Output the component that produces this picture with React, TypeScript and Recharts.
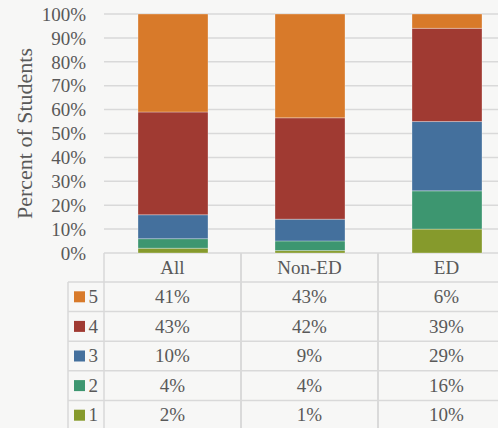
import { BarChart, Bar, XAxis, YAxis, CartesianGrid } from 'recharts';

const CATEGORIES = ['All', 'Non-ED', 'ED'];
const LEVEL_1 = [2, 1, 10];
const LEVEL_2 = [4, 4, 16];
const LEVEL_3 = [10, 9, 29];
const LEVEL_4 = [43, 42, 39];
const LEVEL_5 = [41, 43, 6];
const Y_TICKS = [0, 0.1, 0.2, 0.3, 0.4, 0.5, 0.6, 0.7, 0.8, 0.9, 1];

// bottom of stack first
const SERIES = [
  { key: 'l1', name: '1', values: LEVEL_1, color: '#869a2c' },
  { key: 'l2', name: '2', values: LEVEL_2, color: '#3d9670' },
  { key: 'l3', name: '3', values: LEVEL_3, color: '#44709d' },
  { key: 'l4', name: '4', values: LEVEL_4, color: '#a03a32' },
  { key: 'l5', name: '5', values: LEVEL_5, color: '#d87a2a' },
];
const TABLE_ROWS = [...SERIES].reverse();

const data = CATEGORIES.map((name, i) => {
  const row: Record<string, string | number> = { name };
  SERIES.forEach(s => { row[s.key] = s.values[i]; });
  return row;
});

const TEXT = '#595959';
const BORDER = '#d9d9d9';
const FAMILY = '"Liberation Serif", "Times New Roman", serif';
const FONT = 19;
const HEADER_H = 29;
const ROW_H = 29.6;
const LEGEND_LEFT = 68;

const TableTick = (props: any) => {
  const { x, y, payload, index } = props;
  const half = payload && payload.offset ? payload.offset : 68.5;
  const left = x - half;
  const right = x + half;
  const bottom = y + HEADER_H + ROW_H * TABLE_ROWS.length;
  const lineLeft = index === 0 ? LEGEND_LEFT : left;
  return (
    <g>
      <line x1={left} y1={y} x2={left} y2={bottom} stroke={BORDER} strokeWidth={1.5} />
      <line x1={right} y1={y} x2={right} y2={bottom} stroke={BORDER} strokeWidth={1.5} />
      <text x={x} y={y + 20.5} textAnchor="middle" fill={TEXT} fontSize={FONT}>{payload.value}</text>
      {TABLE_ROWS.map((s, r) => {
        const top = y + HEADER_H + r * ROW_H;
        return (
          <g key={s.key}>
            <line x1={lineLeft} y1={top} x2={right} y2={top} stroke={BORDER} strokeWidth={1.5} />
            <text x={x} y={top + 21} textAnchor="middle" fill={TEXT} fontSize={FONT}>
              {s.values[index]}%
            </text>
            {index === 0 && (
              <g>
                <rect x={74} y={top + ROW_H / 2 - 5.5} width={11} height={11} fill={s.color} />
                <text x={88.5} y={top + 21} fill={TEXT} fontSize={FONT}>{s.name}</text>
              </g>
            )}
          </g>
        );
      })}
      {index === 0 && (
        <line x1={LEGEND_LEFT} y1={y + HEADER_H} x2={LEGEND_LEFT} y2={bottom} stroke={BORDER} strokeWidth={1.5} />
      )}
    </g>
  );
};

const AxisTitle = (props: any) => {
  const vb = props.viewBox || { x: 0, y: 14, height: 239 };
  const cx = 24;
  const cy = vb.y + vb.height / 2;
  return (
    <text x={cx} y={cy} transform={`rotate(-90, ${cx}, ${cy})`} textAnchor="middle" dominantBaseline="central" fill={TEXT} fontSize={22}>
      Percent of Students
    </text>
  );
};

export default function App() {
  return (
    <div style={{ position: 'fixed', left: 0, top: 0, width: 498, height: 428, overflow: 'hidden', background: '#f7f7f6' }}>
      <style>{`.chart-root svg text, .chart-root svg tspan { font-family: ${FAMILY} !important; }`}</style>
      <div className="chart-root">
        <BarChart
          width={520}
          height={440}
          data={data}
          stackOffset="expand"
          margin={{ top: 14, right: 5, bottom: 0, left: 0 }}
          barSize={70}
        >
          <CartesianGrid vertical={false} stroke={BORDER} strokeWidth={1.5} />
          <XAxis
            dataKey="name"
            height={187}
            axisLine={false}
            tickLine={false}
            tickSize={0}
            tickMargin={0}
            interval={0}
            tick={<TableTick />}
          />
          <YAxis
            width={104}
            domain={[0, 1]}
            ticks={Y_TICKS}
            interval={0}
            tickFormatter={(v: number) => `${Math.round(v * 100)}%`}
            axisLine={false}
            tickLine={false}
            tickSize={0}
            tickMargin={18}
            tick={{ fill: TEXT, fontSize: FONT }}
            label={{ content: AxisTitle }}
          />
          {SERIES.map(s => (
            <Bar
              key={s.key}
              dataKey={s.key}
              name={s.name}
              stackId="a"
              fill={s.color}
              stroke="#ffffff"
              strokeOpacity={0.3}
              strokeWidth={1}
              isAnimationActive={false}
            />
          ))}
        </BarChart>
      </div>
    </div>
  );
}
